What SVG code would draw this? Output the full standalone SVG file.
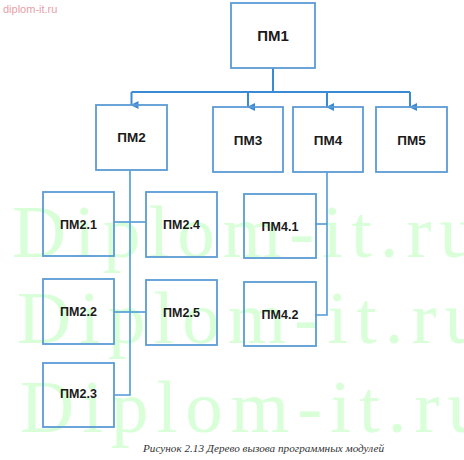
<svg xmlns="http://www.w3.org/2000/svg" width="464" height="460" viewBox="0 0 464 460">
  <style>
    .box { fill: none; stroke: #5b9bd5; stroke-width: 1.8; }
    .lbl { font-family: "Liberation Sans", Arial, sans-serif; font-weight: bold; fill: #1a1a1a; text-anchor: middle; }
    .top { font-size: 13.5px; }
    .sub { font-size: 12.5px; }
    .wm { font-family: "Liberation Serif", "Times New Roman", serif; font-size: 75px; fill: #ccffcc; opacity: 0.75; letter-spacing: 8px; }
    .conn { fill: none; stroke: #3b8ad4; stroke-width: 2; }
    .conn2 { fill: none; stroke: #4f9ad8; stroke-width: 1.6; }
  </style>
  <defs>
    <marker id="arr" markerWidth="8" markerHeight="8" refX="4" refY="7" orient="auto-start-reverse" markerUnits="userSpaceOnUse" viewBox="0 0 8 8">
      <path d="M0,0 L8,0 L4,8 Z" fill="#3b8ad4"/>
    </marker>
  </defs>
  <rect width="464" height="460" fill="#ffffff"/>

  <!-- watermarks -->
  <text x="3" y="13" font-family="Liberation Sans, Arial, sans-serif" font-size="11" fill="#e8a0a8">diplom-it.ru</text>
  <text class="wm" x="12" y="257">Diplom-it.ru</text>
  <text class="wm" x="17" y="343">Diplom-it.ru</text>
  <text class="wm" x="20" y="432">Diplom-it.ru</text>

  <g id="connectors">
    <polyline class="conn" points="273,68 273,92"/>
    <polyline class="conn" points="131.5,92 410,92"/>
    <line class="conn" x1="131.5" y1="92" x2="131.5" y2="105" marker-end="url(#arr)"/>
    <line class="conn" x1="248" y1="92" x2="248" y2="107" marker-end="url(#arr)"/>
    <line class="conn" x1="327" y1="92" x2="327" y2="107" marker-end="url(#arr)"/>
    <line class="conn" x1="410" y1="92" x2="410" y2="107" marker-end="url(#arr)"/>
    <polyline class="conn2" points="130,170 130,395 114,395"/>
    <line class="conn2" x1="114" y1="222" x2="146" y2="222"/>
    <line class="conn2" x1="114" y1="312" x2="146" y2="312"/>
    <polyline class="conn2" points="327,172 327,315 315,315"/>
    <line class="conn2" x1="315" y1="224" x2="327" y2="224"/>
  </g>

  <g id="pm1"><rect class="box" x="231" y="3" width="84" height="65"/><text class="lbl" x="273" y="41" font-size="15">ПМ1</text></g>
  <g id="pm2"><rect class="box" x="96" y="105" width="71" height="65"/><text class="lbl top" x="131.5" y="142">ПМ2</text></g>
  <g id="pm3"><rect class="box" x="213" y="107" width="70" height="65"/><text class="lbl top" x="248" y="145">ПМ3</text></g>
  <g id="pm4"><rect class="box" x="293" y="107" width="70" height="65"/><text class="lbl top" x="328" y="145">ПМ4</text></g>
  <g id="pm5"><rect class="box" x="376" y="107" width="71" height="65"/><text class="lbl top" x="411.5" y="145">ПМ5</text></g>

  <g id="pm2_1"><rect class="box" x="43" y="192" width="71" height="64"/><text class="lbl sub" x="78.5" y="229">ПМ2.1</text></g>
  <g id="pm2_4"><rect class="box" x="146" y="192" width="71" height="65"/><text class="lbl sub" x="181.5" y="229">ПМ2.4</text></g>
  <g id="pm4_1"><rect class="box" x="244" y="194" width="72" height="64"/><text class="lbl sub" x="280" y="231">ПМ4.1</text></g>
  <g id="pm2_2"><rect class="box" x="43" y="279" width="71" height="65"/><text class="lbl sub" x="78.5" y="316">ПМ2.2</text></g>
  <g id="pm2_5"><rect class="box" x="146" y="280" width="71" height="65"/><text class="lbl sub" x="181.5" y="317">ПМ2.5</text></g>
  <g id="pm4_2"><rect class="box" x="244" y="282" width="72" height="64"/><text class="lbl sub" x="280" y="319">ПМ4.2</text></g>
  <g id="pm2_3"><rect class="box" x="43" y="363" width="71" height="64"/><text class="lbl sub" x="78.5" y="398">ПМ2.3</text></g>

  <text x="143" y="452" font-family="Liberation Serif, 'Times New Roman', serif" font-style="italic" font-size="10.5" fill="#333333" textLength="241" lengthAdjust="spacingAndGlyphs">Рисунок 2.13 Дерево вызова программных модулей</text>
</svg>
